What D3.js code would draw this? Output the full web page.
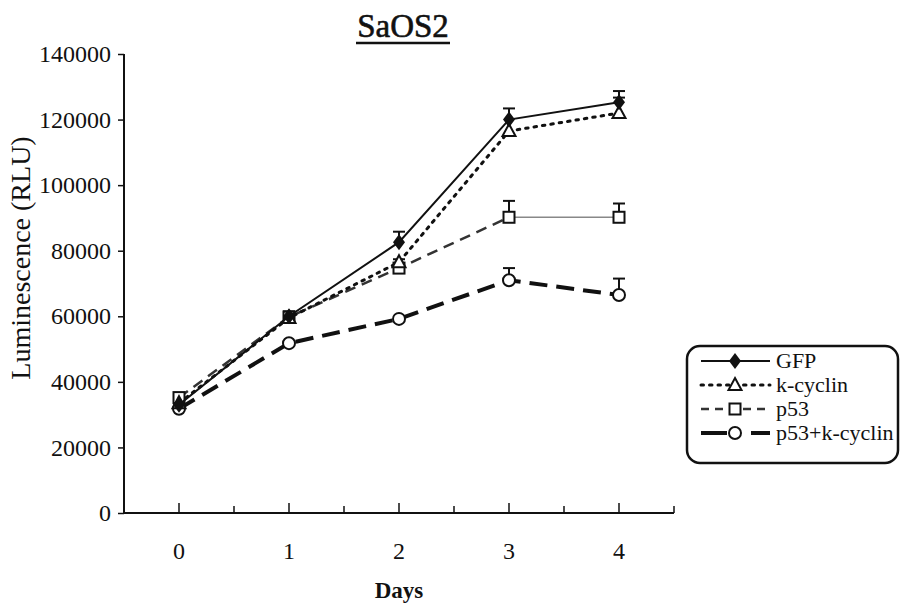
<!DOCTYPE html>
<html>
<head>
<meta charset="utf-8">
<script src="https://cdn.jsdelivr.net/npm/d3@7"></script>
<style>
  body { margin: 0; background: #fff; }
  svg text { font-family: "Liberation Serif", "Times New Roman", serif; fill: #111; }
</style>
</head>
<body>
<div id="chart"></div>
<script>
// values
const days = [0, 1, 2, 3, 4];
const gfp = [33000, 60000, 82600, 120000, 125300];
const gfpErr = [0, 1500, 3200, 3400, 3400];
const kcyclin = [33500, 59500, 76500, 116500, 122000];
const kcyclinErr = [0, 0, 0, 0, 4700];
const p53 = [35200, 59800, 74700, 90200, 90200];
const p53Err = [0, 1000, 2700, 5000, 4200];
const p53k = [31800, 51800, 59200, 71000, 66500];
const p53kErr = [0, 0, 0, 3700, 5000];
const yTicks = [0, 20000, 40000, 60000, 80000, 100000, 120000, 140000];
const seriesNames = ["GFP", "k-cyclin", "p53", "p53+k-cyclin"];

const W = 901, H = 603;

const svg = d3.select("#chart").append("svg")
    .attr("width", W)
    .attr("height", H);

// scales
const x = d3.scaleLinear().domain([-0.5, 4.5]).range([124, 674]);
const y = d3.scaleLinear().domain([0, 140000]).range([513, 54]);

// title
svg.append("text")
    .attr("x", 403).attr("y", 37)
    .attr("text-anchor", "middle")
    .style("font-size", "33px")
    .style("stroke", "#111").style("stroke-width", 0.6)
    .text("SaOS2");
svg.append("line")
    .attr("x1", 356).attr("x2", 450)
    .attr("y1", 43).attr("y2", 43)
    .attr("stroke", "#111").attr("stroke-width", 2.5);

// y axis
const yAxis = svg.append("g")
    .attr("transform", "translate(124,0)")
    .call(d3.axisLeft(y).tickValues(yTicks).tickFormat(d3.format("d")).tickSize(6).tickPadding(7));
yAxis.select(".domain").attr("stroke", "#111").attr("stroke-width", 2).attr("d", "M0," + y(140000) + "V" + (y(0) + 1));
yAxis.selectAll(".tick line").attr("stroke", "#111").attr("stroke-width", 1.5);
yAxis.selectAll(".tick text").style("font-size", "24px").attr("fill", "#111");

svg.append("text")
    .attr("transform", "translate(30,258) rotate(-90)")
    .attr("text-anchor", "middle")
    .style("font-size", "28px")
    .text("Luminescence (RLU)");

// x axis: ticks every half day pointing up, labels on whole days
const xAxis = svg.append("g").attr("transform", "translate(0," + y(0) + ")");
xAxis.append("line")
    .attr("x1", x(-0.5)).attr("x2", x(4.5))
    .attr("stroke", "#111").attr("stroke-width", 2);
const halfTicks = d3.range(0, 4.51, 0.5);
xAxis.selectAll(".xt").data(halfTicks).enter().append("line")
    .attr("class", "xt")
    .attr("x1", d => x(d)).attr("x2", d => x(d))
    .attr("y1", 0).attr("y2", d => Number.isInteger(d) ? -10 : -7)
    .attr("stroke", "#111").attr("stroke-width", 1.5);
xAxis.selectAll(".xl").data(days).enter().append("text")
    .attr("class", "xl")
    .attr("x", d => x(d)).attr("y", 46)
    .attr("text-anchor", "middle")
    .style("font-size", "24px")
    .text(d => d);

svg.append("text")
    .attr("x", x(2)).attr("y", 598)
    .attr("text-anchor", "middle")
    .style("font-size", "23px")
    .style("font-weight", "bold")
    .text("Days");

// series
const series = [
    { name: seriesNames[3], vals: p53k, err: p53kErr, marker: "circle", width: 4, dash: "18,9", color: "#111" },
    { name: seriesNames[2], vals: p53, err: p53Err, marker: "square", width: 2.5, dash: "11,7", color: "#333" },
    { name: seriesNames[1], vals: kcyclin, err: kcyclinErr, marker: "triangle", width: 3, dash: "2.5,6", color: "#111" },
    { name: seriesNames[0], vals: gfp, err: gfpErr, marker: "diamond", width: 2, dash: null, color: "#111" }
];

const line = d3.line().x(d => x(d[0])).y(d => y(d[1]));

function drawMarker(g, type, cx, cy) {
    if (type === "diamond") {
        g.append("path")
            .attr("d", `M${cx},${cy - 8}L${cx + 6},${cy}L${cx},${cy + 8}L${cx - 6},${cy}Z`)
            .attr("fill", "#111");
    } else if (type === "triangle") {
        g.append("path")
            .attr("d", `M${cx},${cy - 7}L${cx + 6.5},${cy + 5}L${cx - 6.5},${cy + 5}Z`)
            .attr("fill", "#fff").attr("stroke", "#111").attr("stroke-width", 2);
    } else if (type === "square") {
        g.append("rect")
            .attr("x", cx - 5.5).attr("y", cy - 5.5).attr("width", 11).attr("height", 11)
            .attr("fill", "#fff").attr("stroke", "#111").attr("stroke-width", 2);
    } else {
        g.append("circle")
            .attr("cx", cx).attr("cy", cy).attr("r", 6)
            .attr("fill", "#fff").attr("stroke", "#111").attr("stroke-width", 2);
    }
}

const plot = svg.append("g");

series.forEach(s => {
    const pts = days.map((d, i) => [d, s.vals[i]]);
    const g = plot.append("g");
    if (s.name === "p53") {
        // last segment of p53 is a thin grey solid line
        g.append("path").datum(pts.slice(0, 4))
            .attr("d", line).attr("fill", "none")
            .attr("stroke", s.color).attr("stroke-width", s.width)
            .attr("stroke-dasharray", s.dash);
        g.append("path").datum(pts.slice(3))
            .attr("d", line).attr("fill", "none")
            .attr("stroke", "#888").attr("stroke-width", 1.5);
    } else {
        g.append("path").datum(pts)
            .attr("d", line).attr("fill", "none")
            .attr("stroke", s.color).attr("stroke-width", s.width)
            .attr("stroke-dasharray", s.dash)
            .attr("stroke-linecap", s.dash && s.width === 3 ? "round" : "butt");
    }
    // error bars (upper only)
    pts.forEach((p, i) => {
        if (!s.err[i]) return;
        const top = y(p[1] + s.err[i]);
        g.append("line")
            .attr("x1", x(p[0])).attr("x2", x(p[0]))
            .attr("y1", y(p[1])).attr("y2", top)
            .attr("stroke", "#111").attr("stroke-width", 2);
        g.append("line")
            .attr("x1", x(p[0]) - 6).attr("x2", x(p[0]) + 6)
            .attr("y1", top).attr("y2", top)
            .attr("stroke", "#111").attr("stroke-width", 2);
    });
    pts.forEach(p => drawMarker(g, s.marker, x(p[0]), y(p[1])));
});

// legend
const legend = svg.append("g");
legend.append("rect")
    .attr("x", 687).attr("y", 346).attr("width", 211).attr("height", 117)
    .attr("rx", 13)
    .attr("fill", "#fff").attr("stroke", "#111").attr("stroke-width", 2.5);

const legendItems = series.slice().reverse();
legendItems.forEach((s, i) => {
    const ly = 361 + i * 24;
    const gl = legend.append("g");
    gl.append("line")
        .attr("x1", 701).attr("x2", 770)
        .attr("y1", ly).attr("y2", ly)
        .attr("stroke", s.color).attr("stroke-width", s.width)
        .attr("stroke-dasharray", s.name === "p53+k-cyclin" ? "26,24" : (s.name === "p53" ? "8,6" : s.dash))
        .attr("stroke-linecap", s.width === 3 ? "round" : "butt");
    drawMarker(gl, s.marker, 735, ly);
    gl.append("text")
        .attr("x", 776).attr("y", ly + 7)
        .style("font-size", "22px")
        .text(s.name);
});
</script>
</body>
</html>
